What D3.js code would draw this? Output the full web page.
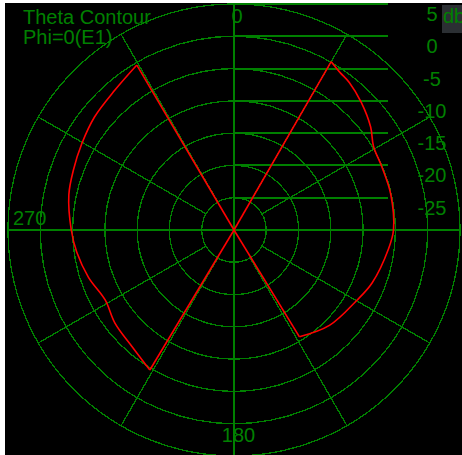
<!DOCTYPE html>
<html>
<head>
<meta charset="utf-8">
<script src="https://cdn.jsdelivr.net/npm/d3@7"></script>
<style>
body{margin:0;background:#fff;}
text{font-family:Arial,"Liberation Sans",sans-serif;}
</style>
</head>
<body>
<div id="plot"></div>
<script>
// pattern data: bearing in degrees (clockwise from top) and gain in dB
var theta = [0, 30, 34, 38, 45, 53, 59, 67, 77, 90, 97, 111, 120, 135, 148.5, 180,
             211, 221, 232, 241.5, 252, 262, 270, 282, 290.5, 299.6, 309, 319.6, 329.5, 360];
var gain  = [-30, 0.1, -0.6, -1.0, -2.1, -3.5, -4.8, -5.1, -5.1, -5.3, -5.9, -7.1, -8.1, -9.1, -10.6, -30,
             -4.7, -6.0, -6.6, -7.3, -6.3, -5.4, -4.8, -3.85, -3.45, -2.9, -2.2, -1.55, -0.35, -30];

var ringLevels = [-25, -20, -15, -10, -5, 0, 5];
var ringLabels = ['-25', '-20', '-15', '-10', '-5', '0', '5'];
var spokeAngles = [30, 60, 120, 150, 210, 240, 300, 330];
var titleLines = ['Theta Contour', 'Phi=0(E1)'];
var unitLabel = 'db';

var W = 462, H = 455;
var cx = 234, cy = 230;
var green = '#008000';

var svg = d3.select('#plot').append('svg')
	.attr('width', W)
	.attr('height', H);

svg.append('rect')
	.attr('x', 5).attr('y', 3)
	.attr('width', W - 5).attr('height', H - 3)
	.attr('fill', '#000');

var r = d3.scaleLinear().domain([-30, 5]).range([0, 226]).clamp(true);
var rad = function(d){ return d * Math.PI / 180; };

var plot = svg.append('g').attr('transform', 'translate(' + cx + ',' + cy + ')');

// rings
plot.selectAll('circle.ring')
	.data(ringLevels)
	.enter().append('circle')
	.attr('class', 'ring')
	.attr('r', function(d){ return r(d); })
	.attr('fill', 'none')
	.attr('stroke', green)
	.attr('stroke-width', 1.3)
	.attr('shape-rendering', 'crispEdges');

// spokes
plot.selectAll('line.spoke')
	.data(spokeAngles)
	.enter().append('line')
	.attr('class', 'spoke')
	.attr('x1', function(d){ return r(-25) * Math.sin(rad(d)); })
	.attr('y1', function(d){ return -r(-25) * Math.cos(rad(d)); })
	.attr('x2', function(d){ return r(5) * Math.sin(rad(d)); })
	.attr('y2', function(d){ return -r(5) * Math.cos(rad(d)); })
	.attr('stroke', green)
	.attr('stroke-width', 1.3)
	.attr('shape-rendering', 'crispEdges');

// main axes
var R = r(5);
plot.append('line').attr('x1', -R).attr('x2', R).attr('y1', 0).attr('y2', 0)
	.attr('stroke', green).attr('stroke-width', 2).attr('shape-rendering', 'crispEdges');
plot.append('line').attr('x1', 0).attr('x2', 0).attr('y1', -R).attr('y2', R)
	.attr('stroke', green).attr('stroke-width', 2).attr('shape-rendering', 'crispEdges');

// level lines
plot.selectAll('line.level')
	.data(ringLevels)
	.enter().append('line')
	.attr('class', 'level')
	.attr('x1', 0).attr('x2', 154)
	.attr('y1', function(d){ return -r(d); })
	.attr('y2', function(d){ return -r(d); })
	.attr('stroke', green)
	.attr('stroke-width', 2)
	.attr('shape-rendering', 'crispEdges');

// level labels
plot.selectAll('text.level')
	.data(ringLevels)
	.enter().append('text')
	.attr('class', 'level')
	.attr('x', 198)
	.attr('y', function(d){ return -r(d) + 17; })
	.attr('text-anchor', 'middle')
	.attr('font-size', 20)
	.attr('fill', green)
	.text(function(d, i){ return ringLabels[i]; });

// unit box
svg.append('rect').attr('x', 442).attr('y', 5).attr('width', 20).attr('height', 28).attr('fill', '#2b2f33');
svg.append('text').attr('x', 443).attr('y', 23).attr('font-size', 20).attr('fill', green).text(unitLabel);

// angle labels
svg.append('text').attr('x', 237).attr('y', 23).attr('text-anchor', 'middle').attr('font-size', 20).attr('fill', green).text('0');
svg.append('text').attr('x', 238.5).attr('y', 442).attr('text-anchor', 'middle').attr('font-size', 20).attr('fill', green).text('180');
svg.append('text').attr('x', 13).attr('y', 225).attr('font-size', 20).attr('fill', green).text('270');

// title
svg.selectAll('text.title')
	.data(titleLines)
	.enter().append('text')
	.attr('class', 'title')
	.attr('x', 23)
	.attr('y', function(d, i){ return 23.5 + i * 20; })
	.attr('font-size', 20)
	.attr('fill', green)
	.text(function(d){ return d; });

// pattern: smooth lobes, straight drops to the floor at the centre
var pts = theta.map(function(t, i){ return {t: t, g: gain[i]}; });
var lobes = [], links = [], cur = [];
pts.forEach(function(p, i){
	if (p.g <= -30) {
		if (cur.length) { lobes.push(cur); links.push([cur[cur.length - 1], p]); cur = []; }
		if (i + 1 < pts.length && pts[i + 1].g > -30) links.push([p, pts[i + 1]]);
	} else {
		cur.push(p);
	}
});
if (cur.length) lobes.push(cur);

var smooth = d3.lineRadial()
	.angle(function(d){ return rad(d.t); })
	.radius(function(d){ return r(d.g); })
	.curve(d3.curveCatmullRom.alpha(0.5));
var straight = d3.lineRadial()
	.angle(function(d){ return rad(d.t); })
	.radius(function(d){ return r(d.g); });

plot.selectAll('path.lobe')
	.data(lobes)
	.enter().append('path')
	.attr('class', 'lobe')
	.attr('d', smooth)
	.attr('fill', 'none')
	.attr('stroke', '#ff0000')
	.attr('stroke-width', 1.6);

plot.selectAll('path.link')
	.data(links)
	.enter().append('path')
	.attr('class', 'link')
	.attr('d', straight)
	.attr('fill', 'none')
	.attr('stroke', '#ff0000')
	.attr('stroke-width', 1.6);
</script>
</body>
</html>
